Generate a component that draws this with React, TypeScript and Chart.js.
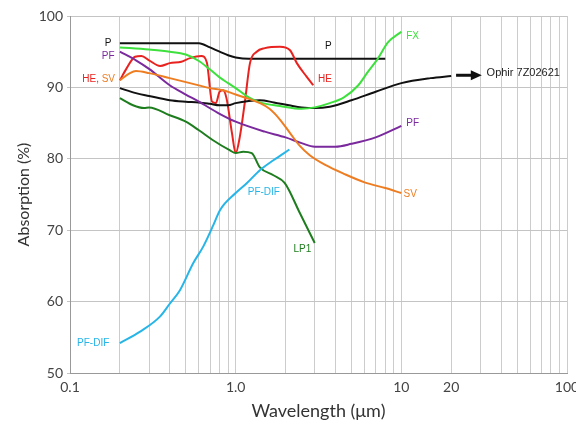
import React, { useEffect, useRef } from 'react';
import { Chart, registerables } from 'chart.js';

Chart.register(...registerables);

// ---------- data (wavelength in µm, absorption in %) ----------
const pWavelength = [0.2, 0.6, 0.7, 0.8, 0.9, 1.0, 1.2, 8];
const pAbsorption = [96.2, 96.2, 95.6, 95.0, 94.5, 94.2, 94.0, 94.0];

const ophirWavelength = [0.2, 0.25, 0.3, 0.4, 0.5, 0.6, 0.7, 0.8, 0.9, 1.0, 1.2, 1.4, 1.7, 2.1, 2.5, 3.0, 3.7, 5, 7, 10, 15, 20];
const ophirAbsorption = [89.9, 89.2, 88.8, 88.2, 88.0, 87.9, 87.7, 87.5, 87.5, 87.8, 88.1, 88.2, 87.9, 87.5, 87.2, 87.1, 87.3, 88.2, 89.4, 90.6, 91.3, 91.6];

const fxWavelength = [0.2, 0.3, 0.4, 0.5, 0.6, 0.7, 0.8, 0.9, 1.0, 1.2, 1.4, 1.85, 2.5, 3.0, 3.7, 4.5, 5.5, 6.2, 7.2, 8.3, 10];
const fxAbsorption = [95.6, 95.3, 95.0, 94.6, 93.7, 92.5, 91.4, 90.6, 89.9, 88.6, 87.9, 87.4, 87.0, 87.2, 87.8, 88.6, 90.3, 92.0, 94.0, 96.3, 97.8];

const pfWavelength = [0.2, 0.25, 0.3, 0.4, 0.5, 0.6, 0.8, 1.0, 1.5, 2.0, 2.5, 3.0, 4.0, 5.0, 7.0, 10];
const pfAbsorption = [95.0, 93.8, 92.6, 90.3, 89.0, 88.0, 86.3, 85.2, 83.8, 83.0, 82.2, 81.7, 81.7, 82.1, 83.0, 84.6];

const heWavelength = [0.2, 0.22, 0.247, 0.27, 0.3, 0.35, 0.4, 0.47, 0.53, 0.62, 0.67, 0.72, 0.76, 0.8, 0.84, 0.88, 0.95, 1.0, 1.06, 1.14, 1.22, 1.34, 1.5, 1.85, 2.13, 2.34, 2.68, 2.94];
const heAbsorption = [91.0, 92.7, 94.3, 94.4, 93.8, 93.0, 93.4, 93.6, 94.1, 94.4, 93.5, 88.0, 87.8, 89.4, 89.6, 88.5, 83.6, 80.8, 83.1, 88.2, 93.4, 95.0, 95.5, 95.7, 95.2, 93.4, 91.5, 90.3];

const svWavelength = [0.2, 0.23, 0.25, 0.3, 0.4, 0.53, 0.7, 0.84, 1.0, 1.2, 1.4, 1.6, 1.85, 2.13, 2.44, 2.8, 3.5, 4.5, 6.0, 8.0, 10];
const svAbsorption = [91.0, 92.0, 92.3, 92.0, 91.3, 90.6, 89.9, 89.6, 89.0, 88.4, 87.8, 87.0, 85.5, 83.6, 81.8, 80.5, 79.1, 77.9, 76.7, 75.9, 75.2];

const lp1Wavelength = [0.2, 0.24, 0.28, 0.3, 0.4, 0.5, 0.6, 0.73, 0.92, 1.0, 1.11, 1.25, 1.4, 1.69, 1.98, 2.44, 3.0];
const lp1Absorption = [88.5, 87.5, 87.1, 87.2, 86.1, 85.2, 84.0, 82.6, 81.2, 80.8, 81.0, 80.8, 78.8, 77.7, 76.6, 72.4, 68.2];

const pfDifWavelength = [0.2, 0.265, 0.349, 0.4, 0.461, 0.555, 0.637, 0.733, 0.804, 1.0, 1.17, 1.4, 1.69, 2.11];
const pfDifAbsorption = [54.2, 55.8, 57.9, 59.7, 61.6, 65.4, 67.7, 70.7, 72.8, 75.2, 76.6, 78.4, 79.8, 81.3];

const xTickValues = [0.1, 0.2, 0.3, 0.4, 0.5, 0.6, 0.7, 0.8, 0.9, 1, 2, 3, 4, 5, 6, 7, 8, 9, 10, 20, 30, 40, 50, 60, 70, 80, 90, 100];
const xTickLabels: Record<string, string> = { '0.1': '0.1', '1': '1.0', '10': '10', '20': '20', '100': '100' };

// curve labels placed in data coordinates; multi-part labels run right-to-left from the anchor
const curveLabels = [
  { parts: [{ text: 'P', color: '#111111' }], x: 0.17, y: 96.2, align: 'center' },
  { parts: [{ text: 'PF', color: '#7b2a9e' }], x: 0.17, y: 94.4, align: 'center' },
  { parts: [{ text: 'SV', color: '#ee7d22' }, { text: 'HE, ', color: '#e8231f' }], x: 0.187, y: 91.2, align: 'right' },
  { parts: [{ text: 'PF-DIF', color: '#27b5e8' }], x: 0.138, y: 54.2, align: 'center' },
  { parts: [{ text: 'P', color: '#111111' }], x: 3.62, y: 95.7, align: 'center' },
  { parts: [{ text: 'HE', color: '#e8231f' }], x: 3.46, y: 91.2, align: 'center' },
  { parts: [{ text: 'FX', color: '#3de03d' }], x: 11.7, y: 97.1, align: 'center' },
  { parts: [{ text: 'PF', color: '#7b2a9e' }], x: 11.7, y: 85.0, align: 'center' },
  { parts: [{ text: 'SV', color: '#ee7d22' }], x: 11.3, y: 75.1, align: 'center' },
  { parts: [{ text: 'LP1', color: '#1e7d1e' }], x: 2.53, y: 67.4, align: 'center' },
  { parts: [{ text: 'PF-DIF', color: '#27b5e8' }], x: 1.48, y: 75.3, align: 'center' },
];
const ophirLabel = { text: 'Ophir 7Z02621', x: 32.7, y: 92.0 };
const arrowFrom = { x: 21.4, y: 91.7 };
const arrowTo = { x: 30.6, y: 91.7 };

const toPoints = (xs: number[], ys: number[]) => xs.map((x, i) => ({ x, y: ys[i] }));

const annotationPlugin = {
  id: 'curveAnnotations',
  afterDatasetsDraw(chart: any) {
    const { ctx } = chart;
    const xs = chart.scales.x;
    const ys = chart.scales.y;
    ctx.save();
    ctx.textBaseline = 'middle';
    ctx.font = '10px "Liberation Sans", Arial, sans-serif';
    for (const l of curveLabels) {
      let px = xs.getPixelForValue(l.x);
      const py = ys.getPixelForValue(l.y);
      for (const part of l.parts) {
        ctx.fillStyle = part.color;
        ctx.textAlign = l.align;
        ctx.fillText(part.text, px, py);
        px -= ctx.measureText(part.text).width;
      }
    }
    // arrow
    const x0 = xs.getPixelForValue(arrowFrom.x);
    const x1 = xs.getPixelForValue(arrowTo.x);
    const ay = ys.getPixelForValue(arrowFrom.y);
    ctx.strokeStyle = '#111';
    ctx.fillStyle = '#111';
    ctx.lineWidth = 3;
    ctx.beginPath();
    ctx.moveTo(x0, ay);
    ctx.lineTo(x1 - 9, ay);
    ctx.stroke();
    ctx.beginPath();
    ctx.moveTo(x1, ay);
    ctx.lineTo(x1 - 11, ay - 5);
    ctx.lineTo(x1 - 11, ay + 5);
    ctx.closePath();
    ctx.fill();
    ctx.font = '11px "Liberation Sans", Arial, sans-serif';
    ctx.textAlign = 'left';
    ctx.fillStyle = '#222';
    ctx.fillText(ophirLabel.text, xs.getPixelForValue(ophirLabel.x), ys.getPixelForValue(ophirLabel.y));
    ctx.restore();
  },
};

export default function App() {
  const ref = useRef<HTMLCanvasElement | null>(null);
  useEffect(() => {
    if (!ref.current) return;
    const line = (data: any, color: string) => ({
      data,
      borderColor: color,
      backgroundColor: color,
      borderWidth: 2,
      pointRadius: 0,
      fill: false,
      tension: 0.4,
      cubicInterpolationMode: 'monotone',
    });
    const chart = new Chart(ref.current, {
      type: 'line',
      data: {
        datasets: [
          line(toPoints(pfDifWavelength, pfDifAbsorption), '#27b5e8'),
          line(toPoints(lp1Wavelength, lp1Absorption), '#1e7d1e'),
          line(toPoints(svWavelength, svAbsorption), '#ee7d22'),
          line(toPoints(pfWavelength, pfAbsorption), '#7b2a9e'),
          line(toPoints(fxWavelength, fxAbsorption), '#3de03d'),
          line(toPoints(ophirWavelength, ophirAbsorption), '#111111'),
          line(toPoints(heWavelength, heAbsorption), '#e8231f'),
          line(toPoints(pWavelength, pAbsorption), '#111111'),
        ] as any,
      },
      options: {
        animation: false,
        responsive: false,
        layout: { padding: { top: 16, right: 9, bottom: 0, left: 0 } },
        plugins: { legend: { display: false }, tooltip: { enabled: false } },
        scales: {
          x: {
            type: 'logarithmic',
            min: 0.1,
            max: 100,
            afterBuildTicks: (s: any) => {
              s.ticks = xTickValues.map((v) => ({ value: v }));
            },
            afterFit: (s: any) => {
              s.height = 57;
              s.paddingLeft = 0;
              s.paddingRight = 0;
            },
            ticks: {
              autoSkip: false,
              maxRotation: 0,
              minRotation: 0,
              padding: 6,
              color: '#444',
              font: { family: 'Lato', size: 14 },
              callback: (v: any) => xTickLabels[String(v)] ?? '',
            },
            grid: { color: '#cccccc', drawTicks: false },
            border: { color: '#999999' },
            title: {
              display: true,
              text: 'Wavelength (μm)',
              color: '#333',
              font: { family: 'Lato', size: 18 },
              padding: { top: 0, bottom: 8 },
            },
          },
          y: {
            min: 50,
            max: 100,
            afterFit: (s: any) => {
              s.width = 70;
            },
            ticks: {
              stepSize: 10,
              padding: 4,
              color: '#444',
              font: { family: 'Lato', size: 14 },
            },
            grid: { color: '#c4c4c4', tickLength: 3 },
            border: { color: '#999999' },
            title: {
              display: true,
              text: 'Absorption (%)',
              color: '#333',
              font: { family: 'Lato', size: 16 },
              padding: { top: 14, bottom: 0 },
            },
          },
        },
      } as any,
      plugins: [annotationPlugin],
    });
    return () => chart.destroy();
  }, []);
  return (
    <div style={{ position: 'fixed', left: 0, top: 0, width: 576, height: 430, background: '#fff' }}>
      <canvas ref={ref} width={576} height={430} />
    </div>
  );
}
